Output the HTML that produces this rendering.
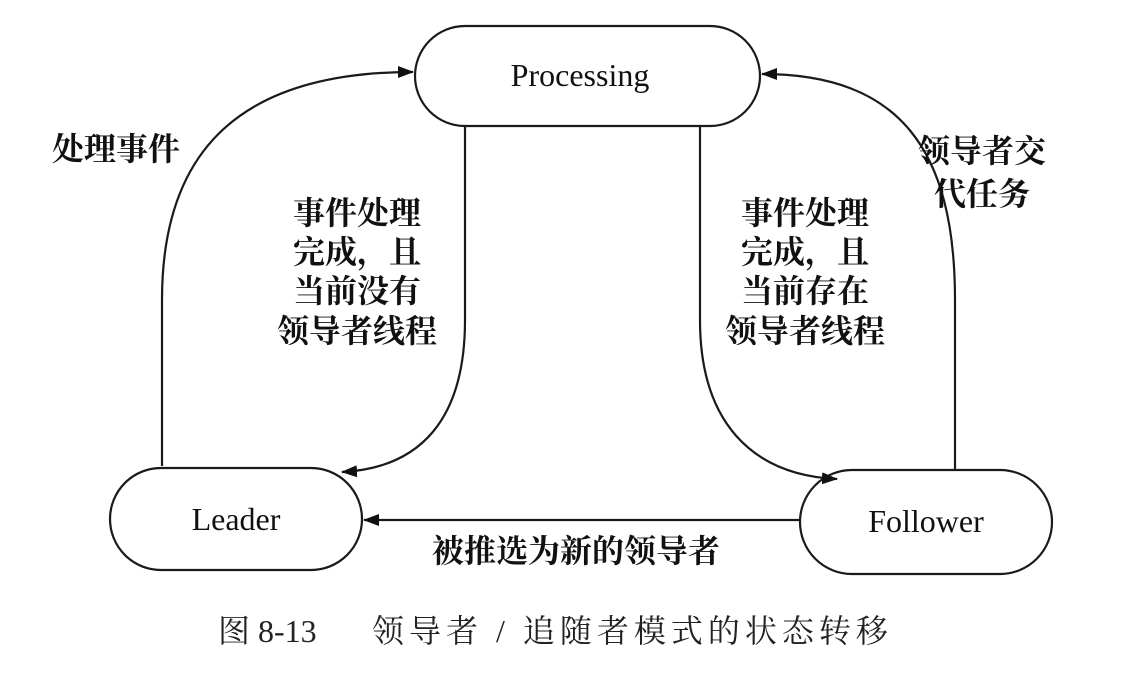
<!DOCTYPE html>
<html><head><meta charset="utf-8"><style>
html,body{margin:0;padding:0;background:#fff;}
svg{display:block;}
.cn{font-family:"Liberation Serif","Noto Serif CJK SC","Noto Sans CJK SC",serif;font-weight:bold;font-size:32px;fill:#111;}
.en{font-family:"Liberation Serif",serif;font-size:32px;fill:#111;}
</style></head><body>
<svg width="1145" height="676" viewBox="0 0 1145 676" xmlns="http://www.w3.org/2000/svg">
<defs>
<marker id="a" markerWidth="16" markerHeight="12" refX="15" refY="6" orient="auto" markerUnits="userSpaceOnUse">
<path d="M0,0 L16,6 L0,12 z" fill="#111"/></marker>
</defs>
<g fill="none" stroke="#1a1a1a" stroke-width="2.2">
<rect x="415" y="26" width="345" height="100" rx="50"/>
<rect x="110" y="468" width="252" height="102" rx="51"/>
<rect x="800" y="470" width="252" height="104" rx="52"/>
<path d="M162,466 L162,300 C162,160 230,72 413,72" marker-end="url(#a)"/>
<path d="M465,126 L465,320 C465,420 420,468 342,472" marker-end="url(#a)"/>
<path d="M700,126 L700,320 C700,420 750,475 837,479" marker-end="url(#a)"/>
<path d="M955,470 L955,300 C955,150 900,74 762,74" marker-end="url(#a)"/>
<path d="M800,520 L364,520" marker-end="url(#a)"/>
</g>
<text class="en" x="580" y="86" text-anchor="middle">Processing</text>
<text class="en" x="236" y="530" text-anchor="middle">Leader</text>
<text class="en" x="926" y="532" text-anchor="middle">Follower</text>
<text class="cn" x="52" y="160">处理事件</text>
<g class="cn" text-anchor="middle">
<text x="357" y="224">事件处理</text>
<text x="357" y="263">完成，且</text>
<text x="357" y="302">当前没有</text>
<text x="357" y="342">领导者线程</text>
<text x="805" y="224">事件处理</text>
<text x="805" y="263">完成，且</text>
<text x="805" y="302">当前存在</text>
<text x="805" y="342">领导者线程</text>
<text x="982" y="162">领导者交</text>
<text x="982" y="205">代任务</text>
</g>
<text class="cn" x="576" y="562" text-anchor="middle">被推选为新的领导者</text>
<text x="218" y="642" style="font-family:'Liberation Serif','Noto Serif CJK SC',serif;font-size:32px;fill:#222;">图 8-13<tspan x="372" style="letter-spacing:5px">领导者 / 追随者模式的状态转移</tspan></text>
</svg>
</body></html>
